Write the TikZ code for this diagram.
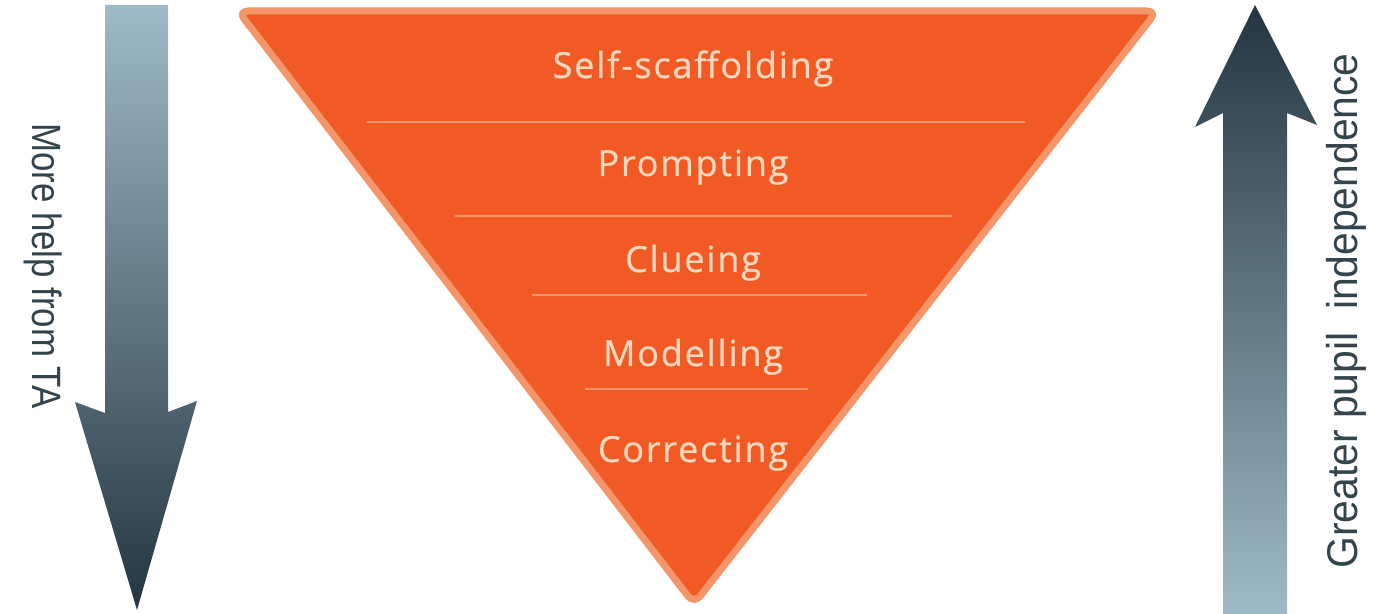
\documentclass[tikz,border=0pt]{standalone}
\usepackage{fontspec}
\setmainfont{Open Sans}
\newfontfamily\levelfont[LetterSpace=5,FakeBold=0.6]{Open Sans}
\newfontfamily\sidefont[FakeStretch=0.85]{Liberation Sans}
\newfontfamily\sidefontwide[FakeStretch=0.95]{Liberation Sans}

\definecolor{wedgefill}{HTML}{F15A24}
\definecolor{wedgerim}{HTML}{F4956A}
\definecolor{wedgetext}{HTML}{FCD9BE}
\definecolor{arrowlight}{HTML}{9FBAC6}
\definecolor{arrowdark}{HTML}{243640}
\definecolor{sidetext}{HTML}{34444C}

\begin{document}
\begin{tikzpicture}[x=0.5pt,y=-0.5pt]
            \tikzstyle{every node}=[inner sep=0pt]
            \tikzstyle{level}=[anchor=base, text=wedgetext, font=\levelfont\fontsize{18}{21}\selectfont]
            \tikzstyle{divider}=[wedgerim, line width=1pt]

            \useasboundingbox (0,0) rectangle (1376,614);

            % the inverted triangle
            \draw[fill=wedgefill, draw=wedgerim, line width=3.5pt, rounded corners=5pt, line join=round]
                (238,11) -- (1157,11) -- (694,604) -- cycle;

            \draw[divider] (367,122) -- (1025,122);
            \draw[divider] (455,216) -- (952,216);
            \draw[divider] (532,295) -- (867,295);
            \draw[divider] (585,389) -- (808,389);

            \node[level] (self)  at (693,78)  {Self-scaffolding};
            \node[level] (prompt) at (693,176) {Prompting};
            \node[level] (clue)  at (693,272) {Clueing};
            \node[level] (model) at (693,366) {Modelling};
            \node[level] (correct) at (693,462) {Correcting};

            % the two arrows
            \shade[top color=arrowlight, bottom color=arrowdark]
                (105,5) -- (168,5) -- (168,412) -- (197,401) -- (137,610) -- (75,402) -- (105,413) -- cycle;
            \shade[top color=arrowdark, bottom color=arrowlight]
                (1255,5) -- (1317,125) -- (1287,113) -- (1287,614) -- (1223,614) -- (1223,113) -- (1195,127) -- cycle;

            \node[rotate=-90, text=sidetext, font=\sidefont\fontsize{20.5}{24}\selectfont] (help) at (43,266) {More help from TA};
            \node[rotate=90, text=sidetext, font=\sidefontwide\fontsize{21.5}{25}\selectfont] (indep) at (1346,311) {Greater pupil\ \ independence};
        \end{tikzpicture}
\end{document}
